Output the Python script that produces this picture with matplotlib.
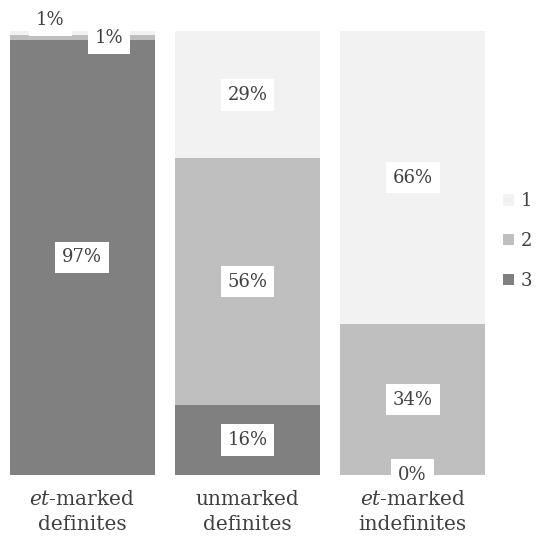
import numpy as np
import matplotlib
matplotlib.use("Agg")
import matplotlib.pyplot as plt

plt.rcParams['font.family'] = ['DejaVu Serif']
plt.rcParams['mathtext.fontset'] = 'custom'
plt.rcParams['mathtext.it'] = 'DejaVu Serif:italic'
plt.rcParams['mathtext.rm'] = 'DejaVu Serif'

categories = ["$\\it{et}$-marked\ndefinites", "unmarked\ndefinites", "$\\it{et}$-marked\nindefinites"]
series_names = ["1", "2", "3"]
pct_1 = [1, 29, 66]
pct_2 = [1, 56, 34]
pct_3 = [97, 16, 0]
colors = ["#f2f2f2", "#bfbfbf", "#808080"]
txt = "#404040"

vals = np.array([pct_1, pct_2, pct_3], dtype=float)
shares = vals / vals.sum(axis=0) * 100  # 100% stacked, like the spreadsheet

fig = plt.figure(figsize=(5.36, 5.40), dpi=100)
ax = fig.add_axes([10/536, 65/540, 475/536, 444/540])

x = np.arange(len(categories))
w = 0.876
# draw bottom-up: 3, 2, 1
bottom = np.zeros(len(categories))
bars = {}
for i in [2, 1, 0]:
    bars[i] = ax.bar(x, shares[i], w, bottom=bottom, color=colors[i], label=series_names[i])
    for j in range(len(categories)):
        cy = bottom[j] + shares[i][j] / 2
        dx, dy = 0, 0
        if j == 0 and i == 0:
            dx, dy = -23, 9.5
        elif j == 0 and i == 1:
            dx, dy = 19, 0
        ax.annotate(f"{int(vals[i][j])}%", (x[j], cy), xytext=(dx, dy),
                    textcoords="offset points", ha="center", va="center",
                    fontsize=13, color=txt, annotation_clip=False, zorder=3,
                    bbox=dict(boxstyle="square,pad=0.38", fc="white", ec="none"))
    bottom += shares[i]

ax.set_xlim(-0.438, 2.438)
ax.set_ylim(0, 100)
ax.set_xticks(x)
ax.set_xticklabels(categories, fontsize=14.5, color=txt, linespacing=1.4)
ax.tick_params(axis="x", length=0, pad=11)
ax.set_yticks([])
for s in ax.spines.values():
    s.set_visible(False)

h = [bars[0], bars[1], bars[2]]
leg = fig.legend(h, series_names, loc="center left", bbox_to_anchor=(503/536, 0.5537),
                 frameon=False, fontsize=13, labelcolor=txt, handlelength=0.6,
                 handleheight=0.6, handletextpad=0.4, labelspacing=1.2, borderaxespad=0,
                 borderpad=0)

fig.savefig("out.png", dpi=100, facecolor="white")
